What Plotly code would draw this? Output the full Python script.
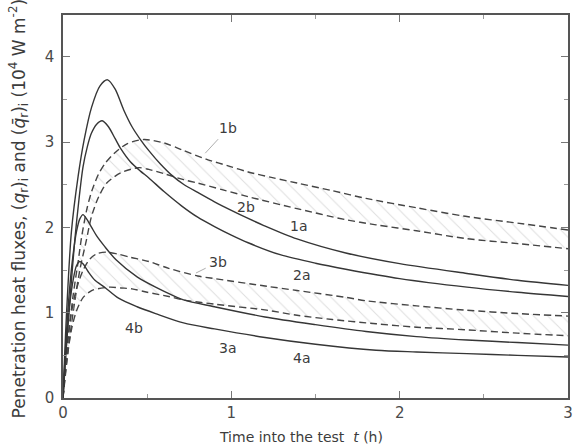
import plotly.graph_objects as go

# ---- data (time in h, flux in 10^4 W m^-2) ----
t_1a = [0, 0.02, 0.05, 0.09, 0.125, 0.17, 0.22, 0.265, 0.31, 0.36, 0.41, 0.46, 0.51, 0.58, 0.647, 0.72, 0.8, 0.9, 1.0, 1.1, 1.19, 1.39, 1.68, 2.0, 2.4, 2.7, 3.0]
q_1a = [0, 0.95, 1.95, 2.6, 3.02, 3.41, 3.66, 3.73, 3.62, 3.38, 3.18, 3.03, 2.90, 2.74, 2.61, 2.50, 2.41, 2.30, 2.20, 2.105, 2.025, 1.865, 1.70, 1.575, 1.46, 1.38, 1.32]

t_2a = [0, 0.02, 0.045, 0.07, 0.095, 0.119, 0.145, 0.168, 0.2, 0.233, 0.27, 0.31, 0.344, 0.4, 0.46, 0.51, 0.6, 0.706, 0.8, 0.9, 1.0, 1.1, 1.29, 1.5, 1.68, 2.0, 2.4, 2.7, 3.0]
q_2a = [0, 0.6, 1.25, 1.85, 2.33, 2.71, 2.95, 3.1, 3.21, 3.25, 3.18, 3.04, 2.92, 2.77, 2.66, 2.58, 2.42, 2.25, 2.12, 2.01, 1.91, 1.82, 1.68, 1.58, 1.51, 1.40, 1.30, 1.24, 1.19]

t_1b = [0, 0.03, 0.06, 0.09, 0.11, 0.14, 0.17, 0.21, 0.25, 0.305, 0.38, 0.48, 0.6, 0.706, 0.85, 1.0, 1.1, 1.25, 1.39, 1.6, 1.8, 2.1, 2.39, 2.7, 3.0]
q_1b = [0, 0.7, 1.2, 1.6, 1.88, 2.2, 2.42, 2.62, 2.75, 2.87, 2.98, 3.03, 2.99, 2.91, 2.80, 2.71, 2.65, 2.58, 2.52, 2.43, 2.34, 2.23, 2.13, 2.05, 1.97]

t_2b = [0, 0.03, 0.06, 0.1, 0.139, 0.168, 0.21, 0.26, 0.344, 0.45, 0.51, 0.6, 0.716, 0.8, 0.95, 1.1, 1.39, 1.68, 1.86, 2.1, 2.39, 2.7, 3.0]
q_2b = [0, 0.55, 1.0, 1.5, 1.85, 2.12, 2.35, 2.52, 2.64, 2.70, 2.68, 2.63, 2.56, 2.52, 2.44, 2.36, 2.22, 2.09, 2.03, 1.96, 1.87, 1.81, 1.75]

t_3a = [0, 0.02, 0.04, 0.06, 0.08, 0.1, 0.119, 0.14, 0.17, 0.2, 0.246, 0.315, 0.44, 0.55, 0.716, 0.9, 1.2, 1.5, 1.8, 2.1, 2.4, 2.7, 3.0]
q_3a = [0, 0.75, 1.3, 1.68, 1.95, 2.1, 2.15, 2.1, 2.0, 1.9, 1.78, 1.62, 1.42, 1.30, 1.15, 1.07, 0.95, 0.86, 0.78, 0.72, 0.68, 0.65, 0.62]

t_4a = [0, 0.02, 0.04, 0.06, 0.08, 0.1, 0.12, 0.15, 0.19, 0.246, 0.33, 0.44, 0.55, 0.716, 0.9, 1.2, 1.5, 1.86, 2.1, 2.4, 2.7, 3.0]
q_4a = [0, 0.65, 1.1, 1.38, 1.55, 1.60, 1.57, 1.48, 1.38, 1.30, 1.17, 1.07, 0.99, 0.88, 0.81, 0.71, 0.63, 0.56, 0.54, 0.52, 0.50, 0.48]

t_3b = [0, 0.02, 0.05, 0.08, 0.12, 0.16, 0.2, 0.256, 0.32, 0.4, 0.51, 0.628, 0.8, 0.9, 1.21, 1.39, 1.68, 1.8, 2.1, 2.39, 2.7, 3.0]
q_3b = [0, 0.5, 1.0, 1.28, 1.5, 1.63, 1.69, 1.71, 1.69, 1.65, 1.60, 1.52, 1.43, 1.40, 1.31, 1.26, 1.18, 1.14, 1.08, 1.03, 0.99, 0.96]

t_4b = [0, 0.02, 0.05, 0.08, 0.12, 0.17, 0.207, 0.28, 0.344, 0.41, 0.5, 0.628, 0.716, 0.9, 1.21, 1.39, 1.6, 1.86, 2.1, 2.39, 2.7, 3.0]
q_4b = [0, 0.4, 0.8, 1.02, 1.18, 1.26, 1.28, 1.30, 1.29, 1.28, 1.24, 1.19, 1.15, 1.10, 1.03, 0.97, 0.92, 0.87, 0.83, 0.80, 0.76, 0.73]

x_ticks = [0, 1, 2, 3]
y_ticks = [0, 1, 2, 3, 4]

curve_labels = ["1b", "2b", "1a", "2a", "3b", "4b", "3a", "4a"]
label_t = [0.98, 1.085, 1.40, 1.42, 0.92, 0.42, 0.98, 1.42]
label_q = [3.17, 2.24, 2.02, 1.44, 1.59, 0.82, 0.59, 0.47]

SOLID = "#363636"
DASH = "#454545"
HATCH = "#bdbdbd"
TXT = "#3c3c3c"
FONT = "DejaVu Sans"

W, H = 578, 448
ML, MR, MT, MB = 63, 5, 15, 50
PW, PH = W - ML - MR, H - MT - MB

fig = go.Figure()

def band(tl, ql, tu, qu):
    fig.add_trace(go.Scatter(x=tl, y=ql, mode="lines",
                             line=dict(color=DASH, width=1.4, dash="7px,4px", shape="spline", smoothing=0.8),
                             showlegend=False, hoverinfo="skip"))
    fig.add_trace(go.Scatter(x=tu, y=qu, mode="lines", fill="tonexty",
                             fillcolor="rgba(255,255,255,0)",
                             fillpattern=dict(shape="\\", fgcolor=HATCH, bgcolor="rgba(255,255,255,0)",
                                              size=10, solidity=0.1),
                             line=dict(color=DASH, width=1.4, dash="7px,4px", shape="spline", smoothing=0.8),
                             showlegend=False, hoverinfo="skip"))

band(t_2b, q_2b, t_1b, q_1b)
band(t_4b, q_4b, t_3b, q_3b)

for tt, qq in [(t_1a, q_1a), (t_2a, q_2a), (t_3a, q_3a), (t_4a, q_4a)]:
    fig.add_trace(go.Scatter(x=tt, y=qq, mode="lines",
                             line=dict(color=SOLID, width=1.4, shape="spline", smoothing=0.8),
                             showlegend=False, hoverinfo="skip"))

for lab, lt, lq in zip(curve_labels, label_t, label_q):
    if lab == "1b":
        fig.add_annotation(x=0.845, y=2.87, ax=23, ay=-25, text=lab, showarrow=True,
                           arrowhead=0, arrowwidth=0.8, arrowcolor="#999", standoff=0, startstandoff=2,
                           font=dict(family=FONT, size=14, color=TXT))
    elif lab == "3b":
        fig.add_annotation(x=0.79, y=1.465, ax=22, ay=-11, text=lab, showarrow=True,
                           arrowhead=0, arrowwidth=0.8, arrowcolor="#999", standoff=0, startstandoff=2,
                           font=dict(family=FONT, size=14, color=TXT))
    else:
        fig.add_annotation(x=lt, y=lq, text=lab, showarrow=False,
                           font=dict(family=FONT, size=14, color=TXT))

fig.add_annotation(xref="paper", yref="paper", x=(303 - ML) / PW, y=(398 - 437) / PH,
                   text="Time into the test  <i>t</i> (h)", showarrow=False,
                   xanchor="center", yanchor="middle", font=dict(family=FONT, size=14, color=TXT))
fig.add_annotation(xref="paper", yref="paper", x=(18 - ML) / PW, y=(398 - 208) / PH,
                   text="Penetration heat fluxes, (<i>q</i><sub>r</sub>)<sub>i</sub> and "
                        "(<i>q̄</i><sub>r</sub>)<sub>i</sub> (10<sup>4</sup> W m<sup>-2</sup>)",
                   textangle=-90, showarrow=False, xanchor="center", yanchor="middle",
                   font=dict(family=FONT, size=17, color=TXT))

axis_common = dict(showline=True, linecolor="#555", linewidth=1.6, mirror="allticks",
                   ticks="inside", ticklen=7, tickwidth=1, tickcolor="#777",
                   showgrid=False, zeroline=False,
                   tickfont=dict(family=FONT, size=15, color="#4a4a4a"),
                   minor=dict(ticks="inside", ticklen=4, dtick=0.5, tickcolor="#999", showgrid=False))

fig.update_xaxes(range=[0, 3], tickvals=x_ticks, ticktext=[str(v) for v in x_ticks], **axis_common)
fig.update_yaxes(range=[0, 4.49], tickvals=y_ticks, ticktext=[str(v) for v in y_ticks],
                 ticklabelstandoff=4, **axis_common)

fig.update_layout(width=W, height=H, margin=dict(l=ML, r=MR, t=MT, b=MB),
                  plot_bgcolor="white", paper_bgcolor="white")

fig.write_html("out.html", config={"displayModeBar": False},
               post_script="document.body.style.margin='0';")
